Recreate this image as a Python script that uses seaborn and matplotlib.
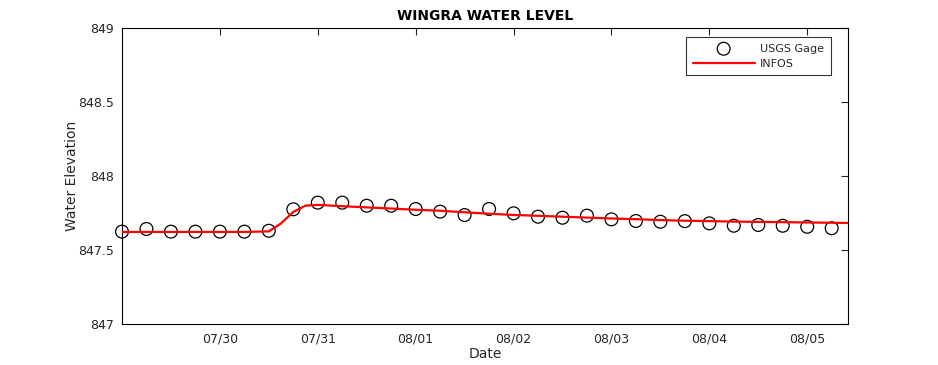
import numpy as np
import pandas as pd
import matplotlib
matplotlib.use("Agg")
import matplotlib.pyplot as plt
import matplotlib.dates as mdates
import seaborn as sns

# ---- data ----
start = pd.Timestamp("2016-07-29 00:00")
gage_hours = list(range(0, 180, 6))[:30]
gage_values = [847.624, 847.642, 847.624, 847.624, 847.624, 847.624, 847.630,
               847.775, 847.820, 847.820, 847.799, 847.799, 847.777, 847.759,
               847.736, 847.777, 847.748, 847.725, 847.718, 847.732, 847.707,
               847.696, 847.691, 847.695, 847.680, 847.664, 847.669, 847.664,
               847.657, 847.647]

infos_hours = [0, 6, 12, 18, 24, 30, 36, 39, 42, 45, 48, 54, 60, 66, 72, 78, 84,
               90, 96, 102, 108, 114, 120, 126, 132, 138, 144, 150, 156, 162,
               168, 174, 180]
infos_values = [847.622, 847.622, 847.622, 847.622, 847.622, 847.622, 847.626,
                847.680, 847.757, 847.800, 847.805, 847.796, 847.788, 847.780,
                847.772, 847.765, 847.755, 847.745, 847.737, 847.731, 847.725,
                847.719, 847.713, 847.708, 847.702, 847.698, 847.695, 847.692,
                847.690, 847.688, 847.686, 847.684, 847.682]

y_ticks = [847, 847.5, 848, 848.5, 849]
y_tick_labels = ["847", "847.5", "848", "848.5", "849"]

gage = pd.DataFrame({"time": start + pd.to_timedelta(gage_hours, unit="h"),
                     "value": gage_values})
infos = pd.DataFrame({"time": start + pd.to_timedelta(infos_hours, unit="h"),
                      "value": infos_values})

sns.set_style("white")
plt.rcParams["font.family"] = ["DejaVu Sans"]

fig = plt.figure(figsize=(9.38, 3.65), dpi=100)
ax = fig.add_axes([122 / 938, 41 / 365, 726 / 938, 296 / 365])

sns.scatterplot(data=gage, x="time", y="value", ax=ax, marker="o", s=85,
                facecolor="none", edgecolor="black", linewidth=0.9,
                label="USGS Gage", zorder=3, clip_on=False)
sns.lineplot(data=infos, x="time", y="value", ax=ax, color="#ff0000",
             linewidth=1.6, label="INFOS", zorder=4)

ax.set_xlim(start, start + pd.Timedelta(hours=178))
ax.set_ylim(847, 849)
ax.set_yticks(y_ticks)
ax.set_yticklabels(y_tick_labels)
ax.xaxis.set_major_locator(mdates.DayLocator())
ticks = [t for t in ax.get_xticks()]
ax.set_xticks(ticks[1:])
ax.xaxis.set_major_formatter(mdates.DateFormatter("%m/%d"))

ax.tick_params(direction="in", length=5, width=0.8, top=True, right=True,
               labelsize=9, colors="#262626", pad=6)
for s in ax.spines.values():
    s.set_color("black")
    s.set_linewidth(0.8)

ax.set_xlabel("Date", fontsize=10, color="#262626", labelpad=1)
ax.set_ylabel("Water Elevation", fontsize=10, color="#262626", labelpad=-1)
ax.set_title("WINGRA WATER LEVEL", fontsize=10, fontweight="bold",
             color="black", pad=6)

leg = ax.legend(loc="upper right", bbox_to_anchor=((831 - 122) / 726, (324 - 37) / 296),
                frameon=True, fancybox=False, fontsize=8, handlelength=5.6,
                borderpad=0.6, labelspacing=0.45, handletextpad=0.5,
                borderaxespad=0)
leg.get_frame().set_edgecolor("black")
leg.get_frame().set_linewidth(0.8)

fig.savefig("out.png", dpi=100)
